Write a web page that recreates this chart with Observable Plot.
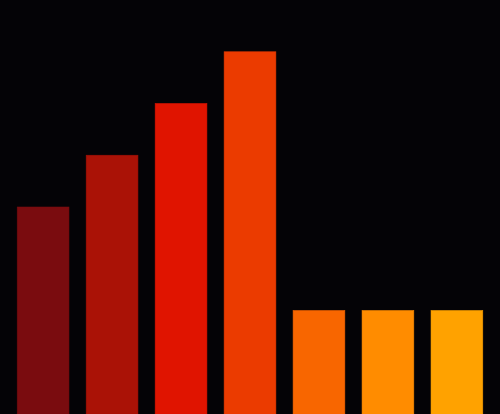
<!DOCTYPE html>
<html>
<head>
<meta charset="utf-8">
<script src="https://cdn.jsdelivr.net/npm/d3@7"></script>
<script src="https://cdn.jsdelivr.net/npm/@observablehq/plot@0.6"></script>
<style>
  html, body { margin: 0; padding: 0; background: #040306; }
  #chart svg { display: block; }
</style>
</head>
<body>
<div id="chart"></div>
<script>
const categories = ["A", "B", "C", "D", "E", "F", "G"];
const values = [4, 5, 6, 7, 2, 2, 2];
const colors = ["#7a0c0f", "#aa1206", "#e01400", "#eb3b00", "#f86600", "#ff8c00", "#ffa200"];

const data = categories.map((c, i) => ({ category: c, value: values[i] }));

const chart = Plot.plot({
  width: 500,
  height: 414,
  margin: 0,
  style: { background: "#040306" },
  x: { domain: categories, padding: 0.25, round: false, axis: null },
  y: { domain: [0, 8], axis: null },
  color: { domain: categories, range: colors },
  marks: [
    Plot.barY(data, { x: "category", y: "value", fill: "category", stroke: "category", strokeWidth: 0.7, strokeOpacity: 0.8 })
  ]
});
document.getElementById("chart").appendChild(chart);
</script>
</body>
</html>
